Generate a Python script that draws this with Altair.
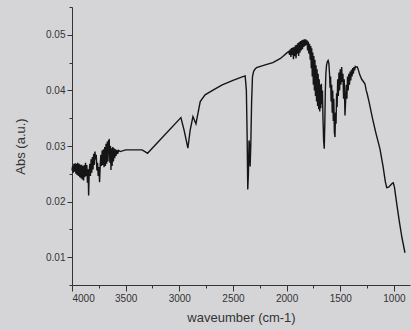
import altair as alt
import pandas as pd

wavenumber = [
    4000, 3994, 3988, 3982, 3976, 3970, 3964, 3958, 3952, 3946, 3940, 3934, 3928, 3922,
    3916, 3910, 3904, 3898, 3892, 3886, 3880, 3874, 3868, 3862, 3856, 3850, 3845, 3840,
    3834, 3828, 3822, 3816, 3810, 3804, 3798, 3792, 3786, 3780, 3774, 3768, 3762, 3756,
    3750, 3743, 3737, 3731, 3725, 3719, 3713, 3707, 3701, 3695, 3689, 3683, 3677, 3671,
    3665, 3659, 3653, 3647, 3641, 3637, 3632, 3626, 3620, 3614, 3608, 3602, 3596, 3590,
    3582, 3574, 3566, 3550, 3500, 3450, 3400, 3348, 3320, 3296,
    2985, 2955, 2920, 2899, 2873, 2845, 2805, 2760, 2682, 2600, 2500, 2420, 2386, 2375,
    2368, 2362, 2356, 2350, 2345, 2340, 2334, 2326, 2318, 2308, 2295, 2280, 2200, 2128,
    2061, 2030, 2000, 1980, 1972, 1966, 1960, 1954, 1948, 1942, 1936, 1930, 1924, 1918,
    1912, 1906, 1900, 1894, 1888, 1882, 1876, 1870, 1864, 1858, 1852, 1846, 1840, 1834,
    1828, 1822, 1816, 1810, 1804, 1798, 1792, 1786, 1780, 1775, 1770, 1766, 1761, 1756,
    1751, 1746, 1741, 1736, 1731, 1726, 1721, 1716, 1711, 1706, 1701, 1696, 1691, 1686,
    1681, 1676, 1671, 1666, 1661, 1655, 1649, 1644, 1639, 1634, 1628, 1620, 1613, 1606,
    1600, 1595, 1590, 1585, 1580, 1575, 1570, 1565, 1560, 1555, 1549, 1544, 1539, 1534,
    1529, 1524, 1518, 1512, 1506, 1500, 1494, 1487, 1481, 1475, 1469, 1463, 1456, 1450,
    1444, 1438, 1432, 1426, 1420, 1414, 1408, 1402, 1396, 1390, 1384, 1378, 1372, 1366,
    1360, 1352, 1341, 1330, 1318, 1300, 1285, 1270, 1258, 1249, 1230, 1200, 1170, 1130,
    1100, 1080, 1067, 1050, 1030, 1015, 1006, 995, 975, 950, 925, 897,
]
absorbance = [
    0.0256, 0.0264, 0.0252, 0.0268, 0.0254, 0.0269, 0.0250, 0.0268, 0.0248, 0.0270, 0.0246, 0.0268, 0.0244, 0.0266,
    0.0242, 0.0266, 0.0240, 0.0264, 0.0238, 0.0266, 0.0244, 0.0270, 0.0246, 0.0266, 0.0234, 0.0258, 0.0211, 0.0252,
    0.0268, 0.0246, 0.0276, 0.0252, 0.0280, 0.0258, 0.0286, 0.0266, 0.0290, 0.0276, 0.0284, 0.0256, 0.0270, 0.0246,
    0.0262, 0.0235, 0.0266, 0.0284, 0.0264, 0.0292, 0.0266, 0.0294, 0.0262, 0.0298, 0.0264, 0.0304, 0.0268, 0.0308,
    0.0272, 0.0310, 0.0311, 0.0270, 0.0300, 0.0257, 0.0296, 0.0264, 0.0298, 0.0272, 0.0296, 0.0278, 0.0294, 0.0282,
    0.0293, 0.0286, 0.0292, 0.0290, 0.0293, 0.0293, 0.0293, 0.0293, 0.0290, 0.0287,
    0.0351, 0.0328, 0.0296, 0.0328, 0.0353, 0.0340, 0.0380, 0.0392, 0.0401, 0.0410, 0.0418, 0.0424, 0.0426, 0.0400,
    0.0320, 0.0222, 0.0250, 0.0310, 0.0300, 0.0263, 0.0300, 0.0380, 0.0425, 0.0434, 0.0438, 0.0441, 0.0446, 0.0450,
    0.0457, 0.0462, 0.0467, 0.0470, 0.0464, 0.0474, 0.0460, 0.0476, 0.0464, 0.0477, 0.0456, 0.0478, 0.0462, 0.0481,
    0.0458, 0.0482, 0.0466, 0.0485, 0.0462, 0.0487, 0.0468, 0.0489, 0.0472, 0.0490, 0.0474, 0.0491, 0.0478, 0.0492,
    0.0480, 0.0492, 0.0482, 0.0490, 0.0472, 0.0488, 0.0466, 0.0484, 0.0455, 0.0480, 0.0440, 0.0476, 0.0425, 0.0468,
    0.0410, 0.0462, 0.0400, 0.0455, 0.0390, 0.0445, 0.0380, 0.0438, 0.0372, 0.0430, 0.0366, 0.0420, 0.0362, 0.0410,
    0.0368, 0.0412, 0.0375, 0.0400, 0.0350, 0.0310, 0.0295, 0.0340, 0.0400, 0.0430, 0.0445, 0.0452, 0.0454, 0.0448,
    0.0430, 0.0405, 0.0425, 0.0380, 0.0410, 0.0360, 0.0400, 0.0345, 0.0385, 0.0325, 0.0316, 0.0360, 0.0340, 0.0395,
    0.0370, 0.0420, 0.0390, 0.0432, 0.0400, 0.0438, 0.0410, 0.0442, 0.0415, 0.0430, 0.0385, 0.0420, 0.0355, 0.0380,
    0.0410, 0.0385, 0.0425, 0.0400, 0.0430, 0.0410, 0.0434, 0.0418, 0.0437, 0.0425, 0.0440, 0.0430, 0.0442, 0.0436,
    0.0443, 0.0442, 0.0442, 0.0436, 0.0428, 0.0420, 0.0416, 0.0412, 0.0400, 0.0394, 0.0378, 0.0350, 0.0325, 0.0295,
    0.0262, 0.0236, 0.0225, 0.0226, 0.0230, 0.0233, 0.0234, 0.0226, 0.0198, 0.0165, 0.0135, 0.0108,
]

x_ticks = [4000, 3750, 3500, 3250, 3000, 2750, 2500, 2250, 2000, 1750, 1500, 1250, 1000]
y_ticks = [0.005, 0.01, 0.015, 0.02, 0.025, 0.03, 0.035, 0.04, 0.045, 0.05, 0.055]

df = pd.DataFrame({"wn": wavenumber, "ab": absorbance})

x_axis = alt.Axis(
    values=x_ticks,
    format="d",
    labelExpr="datum.value % 500 == 0 ? datum.label : ''",
    tickSize={"condition": {"test": "datum.value % 500 == 0", "value": 6}, "value": 3},
    title="waveumber (cm-1)",
    titlePadding=8,
    labelPadding=2,
    grid=False,
)
y_axis = alt.Axis(
    values=y_ticks,
    format=".2f",
    labelExpr="round(datum.value * 1000) % 10 == 0 ? datum.label : ''",
    tickSize={"condition": {"test": "round(datum.value * 1000) % 10 == 0", "value": 5}, "value": 3},
    title="Abs (a.u.)",
    titlePadding=18,
    labelPadding=2,
    grid=False,
)

chart = (
    alt.Chart(df)
    .mark_line(color="#151515", strokeWidth=1.4)
    .encode(
        x=alt.X("wn:Q", scale=alt.Scale(domain=[4000, 850], nice=False, zero=False), axis=x_axis),
        y=alt.Y("ab:Q", scale=alt.Scale(domain=[0.005, 0.055], nice=False, zero=False), axis=y_axis),
    )
    .properties(
        width=338,
        height=278,
        background="#d5d5d8",
        padding={"left": 72, "top": 7, "right": 1, "bottom": 45},
        autosize=alt.AutoSizeParams(type="none"),
    )
    .configure_view(stroke=None)
    .configure_axis(
        domainColor="#333333",
        tickColor="#333333",
        labelColor="#333333",
        titleColor="#333333",
        labelFont="Liberation Sans",
        titleFont="Liberation Sans",
        labelFontSize=10,
        titleFontSize=13,
        titleFontWeight="normal",
        domainWidth=1,
        tickWidth=1,
    )
)

chart.save("out.html", embed_options={"renderer": "svg", "actions": False})
